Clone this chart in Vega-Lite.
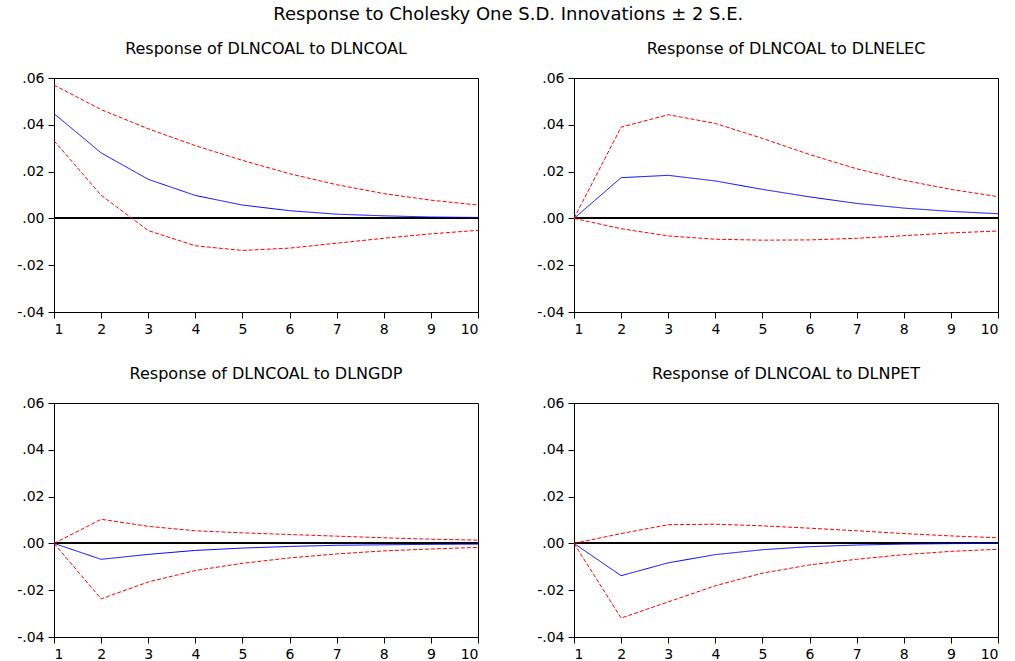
{
  "$schema": "https://vega.github.io/schema/vega-lite/v6.json",
  "padding": {"left": 16, "top": 5, "right": 10, "bottom": 2},
  "background": "white",
  "title": {"text": "Response to Cholesky One S.D. Innovations ± 2 S.E.", "fontSize": 18, "font": "DejaVu Sans", "fontWeight": "normal", "color": "black", "anchor": "middle", "offset": 17},
  "data": {"values": [
    {"panel": "Response of DLNCOAL to DLNCOAL", "h": 1, "resp": 0.0448, "upper": 0.0570, "lower": 0.0332},
    {"panel": "Response of DLNCOAL to DLNCOAL", "h": 2, "resp": 0.0280, "upper": 0.0465, "lower": 0.0099},
    {"panel": "Response of DLNCOAL to DLNCOAL", "h": 3, "resp": 0.0167, "upper": 0.0383, "lower": -0.0052},
    {"panel": "Response of DLNCOAL to DLNCOAL", "h": 4, "resp": 0.0098, "upper": 0.0311, "lower": -0.0117},
    {"panel": "Response of DLNCOAL to DLNCOAL", "h": 5, "resp": 0.0057, "upper": 0.0248, "lower": -0.0137},
    {"panel": "Response of DLNCOAL to DLNCOAL", "h": 6, "resp": 0.0033, "upper": 0.0191, "lower": -0.0127},
    {"panel": "Response of DLNCOAL to DLNCOAL", "h": 7, "resp": 0.0018, "upper": 0.0144, "lower": -0.0106},
    {"panel": "Response of DLNCOAL to DLNCOAL", "h": 8, "resp": 0.0011, "upper": 0.0106, "lower": -0.0085},
    {"panel": "Response of DLNCOAL to DLNCOAL", "h": 9, "resp": 0.0006, "upper": 0.0078, "lower": -0.0066},
    {"panel": "Response of DLNCOAL to DLNCOAL", "h": 10, "resp": 0.0004, "upper": 0.0057, "lower": -0.0051},
    {"panel": "Response of DLNCOAL to DLNELEC", "h": 1, "resp": 0, "upper": 0, "lower": 0},
    {"panel": "Response of DLNCOAL to DLNELEC", "h": 2, "resp": 0.0174, "upper": 0.0390, "lower": -0.0044},
    {"panel": "Response of DLNCOAL to DLNELEC", "h": 3, "resp": 0.0184, "upper": 0.0443, "lower": -0.0075},
    {"panel": "Response of DLNCOAL to DLNELEC", "h": 4, "resp": 0.0160, "upper": 0.0406, "lower": -0.0089},
    {"panel": "Response of DLNCOAL to DLNELEC", "h": 5, "resp": 0.0124, "upper": 0.0342, "lower": -0.0093},
    {"panel": "Response of DLNCOAL to DLNELEC", "h": 6, "resp": 0.0092, "upper": 0.0273, "lower": -0.0092},
    {"panel": "Response of DLNCOAL to DLNELEC", "h": 7, "resp": 0.0064, "upper": 0.0212, "lower": -0.0085},
    {"panel": "Response of DLNCOAL to DLNELEC", "h": 8, "resp": 0.0044, "upper": 0.0163, "lower": -0.0074},
    {"panel": "Response of DLNCOAL to DLNELEC", "h": 9, "resp": 0.0030, "upper": 0.0124, "lower": -0.0062},
    {"panel": "Response of DLNCOAL to DLNELEC", "h": 10, "resp": 0.0020, "upper": 0.0093, "lower": -0.0054},
    {"panel": "Response of DLNCOAL to DLNGDP", "h": 1, "resp": 0, "upper": 0, "lower": 0},
    {"panel": "Response of DLNCOAL to DLNGDP", "h": 2, "resp": -0.0068, "upper": 0.0103, "lower": -0.0237},
    {"panel": "Response of DLNCOAL to DLNGDP", "h": 3, "resp": -0.0047, "upper": 0.0073, "lower": -0.0165},
    {"panel": "Response of DLNCOAL to DLNGDP", "h": 4, "resp": -0.0030, "upper": 0.0054, "lower": -0.0116},
    {"panel": "Response of DLNCOAL to DLNGDP", "h": 5, "resp": -0.0020, "upper": 0.0045, "lower": -0.0085},
    {"panel": "Response of DLNCOAL to DLNGDP", "h": 6, "resp": -0.0013, "upper": 0.0038, "lower": -0.0062},
    {"panel": "Response of DLNCOAL to DLNGDP", "h": 7, "resp": -0.0008, "upper": 0.0031, "lower": -0.0045},
    {"panel": "Response of DLNCOAL to DLNGDP", "h": 8, "resp": -0.0006, "upper": 0.0024, "lower": -0.0032},
    {"panel": "Response of DLNCOAL to DLNGDP", "h": 9, "resp": -0.0004, "upper": 0.0018, "lower": -0.0024},
    {"panel": "Response of DLNCOAL to DLNGDP", "h": 10, "resp": -0.0003, "upper": 0.0014, "lower": -0.0017},
    {"panel": "Response of DLNCOAL to DLNPET", "h": 1, "resp": 0, "upper": 0, "lower": 0},
    {"panel": "Response of DLNCOAL to DLNPET", "h": 2, "resp": -0.0138, "upper": 0.0042, "lower": -0.0319},
    {"panel": "Response of DLNCOAL to DLNPET", "h": 3, "resp": -0.0083, "upper": 0.0080, "lower": -0.0250},
    {"panel": "Response of DLNCOAL to DLNPET", "h": 4, "resp": -0.0048, "upper": 0.0082, "lower": -0.0181},
    {"panel": "Response of DLNCOAL to DLNPET", "h": 5, "resp": -0.0027, "upper": 0.0075, "lower": -0.0127},
    {"panel": "Response of DLNCOAL to DLNPET", "h": 6, "resp": -0.0014, "upper": 0.0065, "lower": -0.0092},
    {"panel": "Response of DLNCOAL to DLNPET", "h": 7, "resp": -0.0007, "upper": 0.0054, "lower": -0.0068},
    {"panel": "Response of DLNCOAL to DLNPET", "h": 8, "resp": -0.0003, "upper": 0.0042, "lower": -0.0048},
    {"panel": "Response of DLNCOAL to DLNPET", "h": 9, "resp": -0.0001, "upper": 0.0032, "lower": -0.0034},
    {"panel": "Response of DLNCOAL to DLNPET", "h": 10, "resp": 0.0000, "upper": 0.0024, "lower": -0.0025}
  ]},
  "transform": [{"fold": ["resp", "upper", "lower"], "as": ["series", "v"]}],
  "facet": {
    "field": "panel", "type": "nominal",
    "sort": ["Response of DLNCOAL to DLNCOAL", "Response of DLNCOAL to DLNELEC", "Response of DLNCOAL to DLNGDP", "Response of DLNCOAL to DLNPET"],
    "header": {"title": null, "labelFontSize": 16, "labelFont": "DejaVu Sans", "labelColor": "black", "labelPadding": 14}
  },
  "columns": 2,
  "spacing": {"row": 28, "column": 55},
  "resolve": {"axis": {"x": "independent", "y": "independent"}},
  "spec": {
    "width": 424,
    "height": 234,
    "layer": [
      {
        "mark": {"type": "rule", "color": "black", "strokeWidth": 1},
        "encoding": {"y": {"datum": 0, "type": "quantitative"}}
      },
      {
        "mark": {"type": "line", "strokeWidth": 1},
        "encoding": {
          "x": {"field": "h", "type": "quantitative", "scale": {"domain": [1, 10], "nice": false, "zero": false},
                "axis": {"title": null, "values": [1, 2, 3, 4, 5, 6, 7, 8, 9, 10], "format": "d"}},
          "y": {"field": "v", "type": "quantitative", "scale": {"domain": [-0.04, 0.06], "nice": false},
                "axis": {"title": null, "values": [-0.04, -0.02, 0, 0.02, 0.04, 0.06], "labelExpr": "replace(replace(format(datum.value, '.2f'), '0.', '.'), '\u2212', '-')"}},
          "color": {"field": "series", "type": "nominal", "scale": {"domain": ["resp", "upper", "lower"], "range": ["#0000ff", "#ff0000", "#ff0000"]}, "legend": null},
          "strokeDash": {"field": "series", "type": "nominal", "scale": {"domain": ["resp", "upper", "lower"], "range": [[1, 0], [4, 2], [4, 2]]}, "legend": null}
        }
      }
    ]
  },
  "config": {
    "font": "DejaVu Sans",
    "view": {"stroke": "black", "strokeWidth": 1},
    "axis": {"grid": false, "domainColor": "black", "tickColor": "black", "tickSize": 6, "labelColor": "black", "labelFontSize": 14, "labelFont": "DejaVu Sans", "labelPadding": 4}
  }
}
